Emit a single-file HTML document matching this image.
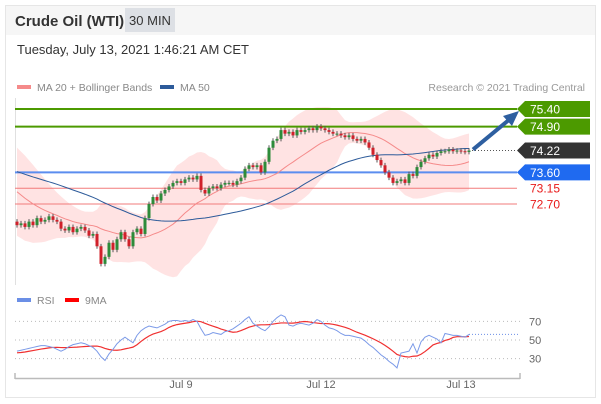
<!DOCTYPE html>
<html><head><meta charset="utf-8"><style>
body{margin:0;background:#fff;font-family:"Liberation Sans",sans-serif}
#wrap{position:relative;width:601px;height:404px;overflow:hidden}
</style></head><body>
<div id="wrap">
<svg id="svg" width="601" height="404" style="position:absolute;left:0;top:0">
<rect x="5.5" y="5.5" width="590" height="392" fill="#fff" stroke="#e6e6e6"/>
<rect x="6" y="6" width="589" height="29" fill="#f6f6f6"/>
<text x="15" y="26" font-size="15" font-weight="bold" fill="#333">Crude Oil (WTI)</text>
<rect x="125" y="8" width="50" height="24" fill="#dde0e5"/>
<text x="150" y="25" font-size="13" fill="#333" text-anchor="middle">30 MIN</text>
<text x="17" y="54" font-size="13" fill="#333">Tuesday, July 13, 2021 1:46:21 AM CET</text>
<rect x="17" y="85" width="14" height="4" fill="#f58a8a"/>
<text x="37" y="91" font-size="10.5" fill="#888">MA 20 + Bollinger Bands</text>
<rect x="160" y="85" width="14" height="4" fill="#2d5b9a"/>
<text x="180" y="91" font-size="10.5" fill="#888">MA 50</text>
<text x="585" y="91" font-size="10.5" fill="#999" text-anchor="end">Research © 2021 Trading Central</text>
<line x1="15.5" y1="98" x2="15.5" y2="285" stroke="#e0e0e0"/>
<g id="price"></g>
<rect x="17" y="298" width="14" height="4" fill="#6b8fe6"/>
<text x="37" y="304" font-size="10.5" fill="#888">RSI</text>
<rect x="65" y="298" width="14" height="4" fill="#f00"/>
<text x="85" y="304" font-size="10.5" fill="#888">9MA</text>
<g id="rsi"></g>
<line x1="15" y1="378.5" x2="520" y2="378.5" stroke="#bbb" stroke-width="1.5"/>
<line x1="15" y1="373" x2="15" y2="379" stroke="#bbb" stroke-width="1.5"/>
<line x1="520" y1="373" x2="520" y2="379" stroke="#bbb" stroke-width="1.5"/>
<g id="xl"></g>
</svg>
</div>
<script>
const priorCloses=[74.0,74.0,74.0,74.0,74.0,74.0,74.0,74.0,74.0,74.0,74.0,74.0,74.0,74.0,74.0,74.0,74.0,74.0,74.0,74.0,74.0,74.0,74.0,74.0,74.0,74.0,74.0,74.0,74.0,74.0,
74.0,73.9,73.8,73.7,73.6,73.5,73.4,73.3,73.2,73.1,73.0,72.9,72.8,72.7,72.6,72.5,72.4,72.3,72.2];
const closes=[72.1,72.15,72.05,72.2,72.1,72.3,72.2,72.25,72.35,72.25,72.2,
72.0,71.95,72.05,71.9,72.0,72.05,71.95,71.8,71.85,71.5,71.0,
71.2,71.6,71.4,71.7,71.9,71.7,71.5,71.9,72.0,71.85,
72.3,72.7,72.9,72.8,73.0,73.1,
73.2,73.3,73.35,73.3,73.4,73.45,73.4,
73.5,73.1,73.0,73.15,
73.2,73.15,73.25,73.3,73.3,73.25,73.35,73.45,
73.7,73.8,73.75,73.8,73.6,73.9,
74.3,74.5,74.55,74.8,
74.7,74.75,74.65,74.8,74.75,74.8,
74.85,74.8,74.9,74.85,74.8,74.75,74.7,
74.7,74.65,74.6,74.65,74.55,74.5,74.55,74.45,74.3,
74.1,73.95,73.8,73.6,73.45,73.3,73.35,73.4,
73.3,73.55,73.5,73.75,
73.9,74.0,74.1,74.05,74.15,74.2,
74.2,74.25,74.2,74.22,74.2,74.18,74.22];
const rsiValues=[38,39,40,41,42,43,
44,44,43,42,40,38,
40,43,45,46,47,46,
44,42,38,32,28,
35,40,46,50,53,
50,47,55,60,63,
65,64,63,65,67,70,
71,71,70,71,70,72,70,
62,55,56,
58,57,56,59,60,
62,65,68,72,75,68,
65,62,60,64,
70,74,77,75,66,
65,67,68,67,66,68,72,70,
66,63,62,60,57,55,
55,54,53,52,49,45,
42,38,34,31,27,24,20,
36,37,38,46,36,48,
53,55,53,51,47,57,
56,55,55,54,53,56];
const priorRsi=[36,35,34,35,36,37,38,37];
const levelValues=[75.40,74.90,73.60,73.15,72.70];
const lastPrice=74.22;
const rsiTicks=[70,50,30];
const xLabels=["Jul 9","Jul 12","Jul 13"];
const xLabelIdx=[41,76,111];

const NS="http://www.w3.org/2000/svg";
function el(t,a,p){const e=document.createElementNS(NS,t);for(const k in a)e.setAttribute(k,a[k]);p.appendChild(e);return e;}
const X=i=>17+i*4;
const Y=p=>109+(75.4-p)*35.2;
const RY=v=>340-(v-50)*0.93;
const P=document.getElementById('price');

const all=priorCloses.concat(closes);const off=priorCloses.length;
function sma(a,n,i){const s=Math.max(0,i-n+1);let t=0;for(let k=s;k<=i;k++)t+=a[k];return t/(i-s+1);}
const ma20=[],up=[],lo=[],ma50=[];
closes.forEach((c,j)=>{const i=j+off;const m=sma(all,20,i);let v=0;for(let k=i-19;k<=i;k++)v+=(all[k]-m)**2;const sd=Math.sqrt(v/20);ma20.push(m);up.push(m+2*sd+0.1);lo.push(m-2*sd-0.1);ma50.push(sma(all,50,i));});
let band="M"+up.map((v,i)=>X(i)+","+Y(v)).join("L")+"L"+lo.map((v,i)=>X(i)+","+Y(v)).reverse().join("L")+"Z";
let e=el('path',{d:band,fill:'#ffdede',opacity:0.85},P);


const lvColors=['#4c9a00','#4c9a00','#5b8def','#f27b7b','#f27b7b'];
const lvW=[2,2,2,1,1];
levelValues.forEach((v,k)=>{const l=el('line',{x1:15,x2:517,y1:Y(v),y2:Y(v),stroke:lvColors[k],'stroke-width':lvW[k]},P);
});

const pl=a=>a.map((v,i)=>(i?"L":"M")+X(i)+","+Y(v)).join("");
e=el('path',{d:pl(ma20),fill:'none',stroke:'#f58a8a','stroke-width':1},P);

e=el('path',{d:pl(ma50),fill:'none',stroke:'#2d5b9a','stroke-width':1},P);


closes.forEach((c,i)=>{const o=all[i+off-1];const h=Math.max(o,c)+0.07,l=Math.min(o,c)-0.07;
const g=el('g',{},P);
el('line',{x1:X(i),x2:X(i),y1:Y(h),y2:Y(l),stroke:'#555','stroke-width':1},g);
const col=c>=o?'#2e8b3a':'#d0202a';el('rect',{x:X(i)-1.5,width:3,y:Math.min(Y(o),Y(c)),height:Math.max(1,Math.abs(Y(o)-Y(c))),fill:col},g);});

e=el('line',{x1:472,x2:517,y1:Y(lastPrice),y2:Y(lastPrice),stroke:'#555','stroke-dasharray':'1,2'},P);

e=el('line',{x1:473,y1:Y(lastPrice)-1,x2:510,y2:Y(75.4)+10,stroke:'#2e5fa0','stroke-width':4},P);

e=el('polygon',{points:`${519},${Y(75.4)+2} ${503},${Y(75.4)+7} ${512},${Y(75.4)+17}`,fill:'#2e5fa0'},P);


const tags=[[75.40,'#4c9a00','#fff'],[74.90,'#4c9a00','#fff'],[lastPrice,'#333','#fff'],[73.60,'#1f6af0','#fff']];
tags.forEach(([v,bg,fg])=>{const y=Y(v);const g=el('g',{},P);
el('polygon',{points:`517,${y} 525,${y-8} 590,${y-8} 590,${y+8} 525,${y+8}`,fill:bg},g);
const t=el('text',{x:530,y:y+4.5,'font-size':12,fill:fg},g);t.textContent=v.toFixed(2);});
[73.15,72.70].forEach(v=>{const t=el('text',{x:530,y:Y(v)+4.5,'font-size':12,fill:'#e81818'},P);t.textContent=v.toFixed(2);
});

const R=document.getElementById('rsi');
rsiTicks.forEach(v=>{const l=el('line',{x1:15,x2:520,y1:RY(v),y2:RY(v),stroke:'#bbb','stroke-dasharray':'1,3'},R);

const t=el('text',{x:529,y:RY(v)+4,'font-size':11,fill:'#666'},R);t.textContent=v;
});
const rAll=priorRsi.concat(rsiValues);const ro=priorRsi.length;
const rma=rsiValues.map((v,i)=>sma(rAll,9,i+ro));
const rp=a=>a.map((v,i)=>(i?"L":"M")+X(i)+","+RY(v)).join("");
e=el('path',{d:rp(rma),fill:'none',stroke:'#f03030','stroke-width':1.2},R);

e=el('path',{d:rp(rsiValues),fill:'none',stroke:'#7b9ae8','stroke-width':1},R);

const lr=rsiValues[rsiValues.length-1];
e=el('line',{x1:X(rsiValues.length-1),x2:518,y1:RY(lr),y2:RY(lr),stroke:'#6b8fe6','stroke-dasharray':'1,2'},R);


const XL=document.getElementById('xl');
xLabels.forEach((s,k)=>{const t=el('text',{x:X(xLabelIdx[k]),y:388,'font-size':11,fill:'#666','text-anchor':'middle'},XL);t.textContent=s;
});
</script>
</body></html>
